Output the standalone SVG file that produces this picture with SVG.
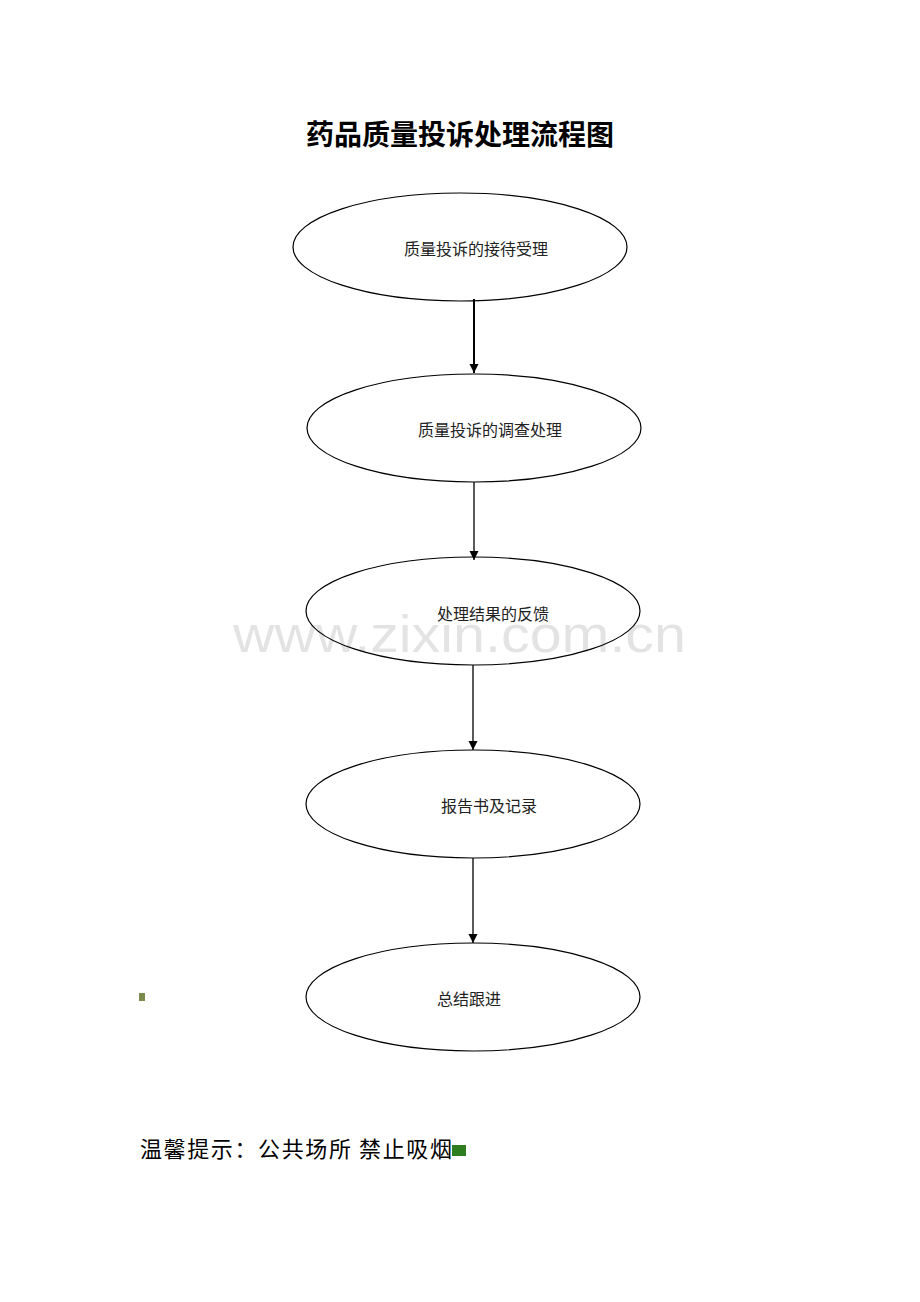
<svg xmlns="http://www.w3.org/2000/svg" width="920" height="1302" viewBox="0 0 920 1302">
<defs>
<style>
.node ellipse{fill:#fff;stroke:#000;stroke-width:1.2}
.lbl{font-family:"Liberation Serif","Noto Sans CJK SC",serif;font-size:16px;fill:#222;text-anchor:middle}
.conn line{stroke:#000;stroke-width:1.3}
</style>
<marker id="ah" markerWidth="10" markerHeight="10" refX="9" refY="5" orient="auto" markerUnits="userSpaceOnUse">
<path d="M0,0.5 L9,5 L0,9.5 Z" fill="#000"/>
</marker>
</defs>
<rect width="920" height="1302" fill="#fff"/>
<text x="460" y="145" font-family="Liberation Sans,'Noto Sans CJK SC',sans-serif" font-size="28" font-weight="bold" text-anchor="middle" fill="#000">药品质量投诉处理流程图</text>
<g id="n1" class="node"><ellipse cx="460" cy="247" rx="167" ry="54"/><text class="lbl" x="476" y="255">质量投诉的接待受理</text></g>
<g id="n2" class="node"><ellipse cx="474" cy="428" rx="167" ry="54"/><text class="lbl" x="490" y="436">质量投诉的调查处理</text></g>
<g id="n3" class="node"><ellipse cx="473" cy="611" rx="167" ry="54"/><text class="lbl" x="493" y="620">处理结果的反馈</text></g>
<g id="n4" class="node"><ellipse cx="473" cy="804" rx="167" ry="54"/><text class="lbl" x="489" y="812">报告书及记录</text></g>
<g id="n5" class="node"><ellipse cx="473" cy="997" rx="167" ry="54"/><text class="lbl" x="469" y="1005">总结跟进</text></g>
<g id="connectors" class="conn">
<line x1="474" y1="299" x2="474" y2="373" marker-end="url(#ah)" style="stroke-width:2"/>
<line x1="474" y1="482" x2="474" y2="560" marker-end="url(#ah)"/>
<line x1="473" y1="665" x2="473" y2="750" marker-end="url(#ah)"/>
<line x1="473" y1="858" x2="473" y2="943" marker-end="url(#ah)"/>
</g>
<text x="233" y="652" font-family="Liberation Sans,Arial,sans-serif" font-size="52" fill="#000" fill-opacity="0.11" textLength="453" lengthAdjust="spacingAndGlyphs">www.zixin.com.cn</text>
<rect x="139" y="993" width="6" height="8" fill="#7a8a4a"/>
<text x="140" y="1157" font-family="'Noto Sans CJK SC',sans-serif" font-size="22" fill="#000" textLength="312" lengthAdjust="spacing">温馨提示：公共场所  禁止吸烟</text>
<rect x="452" y="1145" width="14" height="11" fill="#2e7d1e"/>
</svg>
